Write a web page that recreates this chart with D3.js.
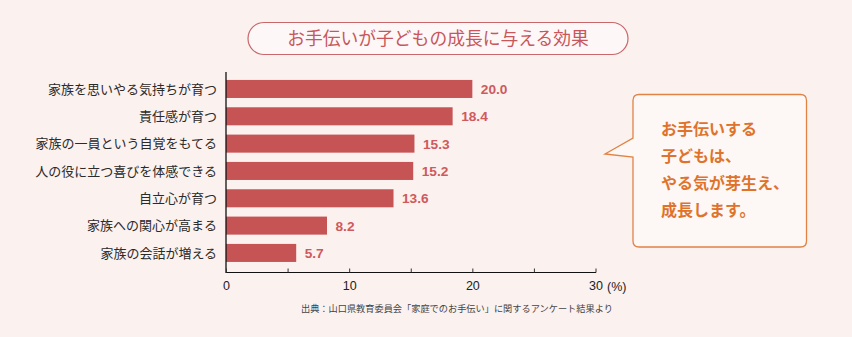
<!DOCTYPE html>
<html><head><meta charset="utf-8">
<script src="https://cdn.jsdelivr.net/npm/d3@7"></script>
<style>
html,body{margin:0;padding:0;background:#fbf1ef;}
svg{display:block;}
text{font-family:"Liberation Sans","Noto Sans CJK JP",sans-serif;}
.jp{font-family:"Noto Sans CJK JP",sans-serif;}
</style></head><body>
<svg id="c" width="852" height="337"></svg>
<script>
const categories = ["家族を思いやる気持ちが育つ","責任感が育つ","家族の一員という自覚をもてる","人の役に立つ喜びを体感できる","自立心が育つ","家族への関心が高まる","家族の会話が増える"];
const values = [20.0, 18.4, 15.3, 15.2, 13.6, 8.2, 5.7];
const tickValues = [0, 5, 10, 15, 20, 25, 30];
const tickLabels = ["0", "", "10", "", "20", "", "30"];
const title = "お手伝いが子どもの成長に与える効果";
const calloutLines = ["お手伝いする","子どもは、","やる気が芽生え、","成長します。"];
const source = "出典：山口県教育委員会「家庭でのお手伝い」に関するアンケート結果より";
const unit = "(%)";

const svg = d3.select("#c");
const x = d3.scaleLinear().domain([0, 30]).range([226, 595.5]);
const y = d3.scaleBand().domain(categories).range([75.3, 266.6]).paddingInner(0.34).paddingOuter(0.17);

// title pill
svg.append("rect").attr("x", 248).attr("y", 22.5).attr("width", 380).attr("height", 32).attr("rx", 16)
  .attr("fill", "#fdf8f7").attr("stroke", "#c9676a").attr("stroke-width", 1.2);
svg.append("text").attr("class", "jp").attr("x", 438).attr("y", 45).attr("text-anchor", "middle")
  .attr("font-size", 17.8).attr("fill", "#c8565b").text(title);

// bars
svg.append("g").selectAll("rect").data(values).join("rect")
  .attr("x", x(0)).attr("y", (d, i) => y(categories[i]))
  .attr("width", d => x(d) - x(0)).attr("height", y.bandwidth())
  .attr("fill", "#c65455");

// value labels
svg.append("g").selectAll("text").data(values).join("text")
  .attr("x", d => x(d) + 8.5).attr("y", (d, i) => y(categories[i]) + y.bandwidth() / 2 + 5)
  .attr("font-size", 13.7).attr("font-weight", "bold").attr("fill", "#cf595c")
  .text(d => d.toFixed(1));

// category labels
svg.append("g").selectAll("text").data(categories).join("text")
  .attr("class", "jp").attr("x", 217).attr("y", d => y(d) + y.bandwidth() / 2 + 4.6)
  .attr("text-anchor", "end").attr("font-size", 13).attr("fill", "#2a2a2a").text(d => d);

// y axis line
svg.append("line").attr("x1", 226).attr("x2", 226).attr("y1", 72).attr("y2", 273)
  .attr("stroke", "#111").attr("stroke-width", 1.3);

// x axis
const xAxis = d3.axisBottom(x).tickValues(tickValues).tickSize(-4).tickPadding(9)
  .tickFormat((d, i) => tickLabels[i]);
const gx = svg.append("g").attr("transform", "translate(0,272.5)").call(xAxis);
gx.select(".domain").attr("stroke", "#111").attr("stroke-width", 1.2).attr("d", "M226,0H596");
gx.selectAll(".tick line").attr("stroke", "#333");
gx.selectAll(".tick text").attr("font-size", 12.5).attr("fill", "#222")
  .attr("font-family", "Liberation Sans, sans-serif");
svg.append("text").attr("x", x(30) + 11.5).attr("y", 291).attr("font-size", 12.5).attr("fill", "#222").text(unit);

// source
svg.append("text").attr("class", "jp").attr("x", 301).attr("y", 311.5).attr("font-size", 9.2)
  .attr("fill", "#444").text(source);

// callout
const bx0 = 633, bx1 = 806.5, by0 = 94.5, by1 = 247, r = 6;
const path = `M${bx0 + r},${by0} H${bx1 - r} Q${bx1},${by0} ${bx1},${by0 + r} V${by1 - r} Q${bx1},${by1} ${bx1 - r},${by1} H${bx0 + r} Q${bx0},${by1} ${bx0},${by1 - r} V157 L605,154 L${bx0},138 V${by0 + r} Q${bx0},${by0} ${bx0 + r},${by0} Z`;
svg.append("path").attr("d", path).attr("fill", "#fdf8f6").attr("stroke", "#e08345").attr("stroke-width", 1.3);
svg.append("g").selectAll("text").data(calloutLines).join("text")
  .attr("class", "jp").attr("x", 661).attr("y", (d, i) => 134.5 + i * 27.3)
  .attr("font-size", 16).attr("font-weight", "bold").attr("fill", "#e0732c").text(d => d);
</script>
</body></html>
